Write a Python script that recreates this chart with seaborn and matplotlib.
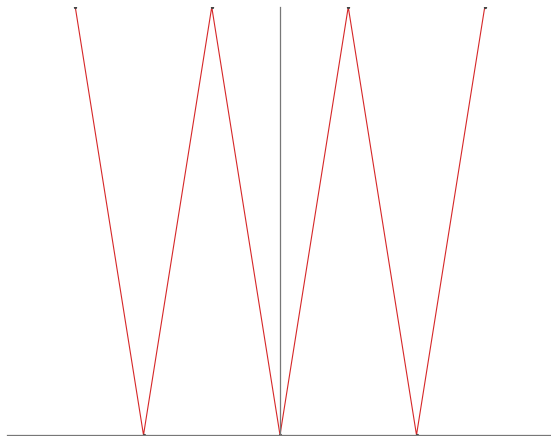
import matplotlib
matplotlib.use("Agg")
import matplotlib.pyplot as plt
import seaborn as sns
import pandas as pd

# ------------------------------------------
# Data: zigzag points
# ------------------------------------------

x_vals = [-3, -2, -1, 0, 1, 2, 3]
y_vals = [1, 0, 1, 0, 1, 0, 1]

df = pd.DataFrame({"x": x_vals, "y": y_vals})

sns.set_style("white")

fig = plt.figure(figsize=(5.51, 4.36), dpi=100)
ax = fig.add_axes([7 / 551, 1 / 436, 546 / 551, 428 / 436])

sns.lineplot(
    data=df, x="x", y="y", ax=ax, color="#d62728", linewidth=0.8,
    marker="o", markersize=1.6, markerfacecolor="#444444",
    markeredgecolor="#444444", sort=False
)

ax.set_xlim(-4, 4)
ax.set_ylim(0, 1)

for s in ["top", "right"]:
    ax.spines[s].set_visible(False)
ax.spines["left"].set_position(("data", 0))
ax.spines["left"].set_color("#777777")
ax.spines["bottom"].set_color("#777777")
ax.spines["left"].set_linewidth(0.9)
ax.spines["bottom"].set_linewidth(0.9)

ax.set_xticks([])
ax.set_yticks([])
ax.set_xlabel("")
ax.set_ylabel("")

plt.savefig("out.png", dpi=100)
